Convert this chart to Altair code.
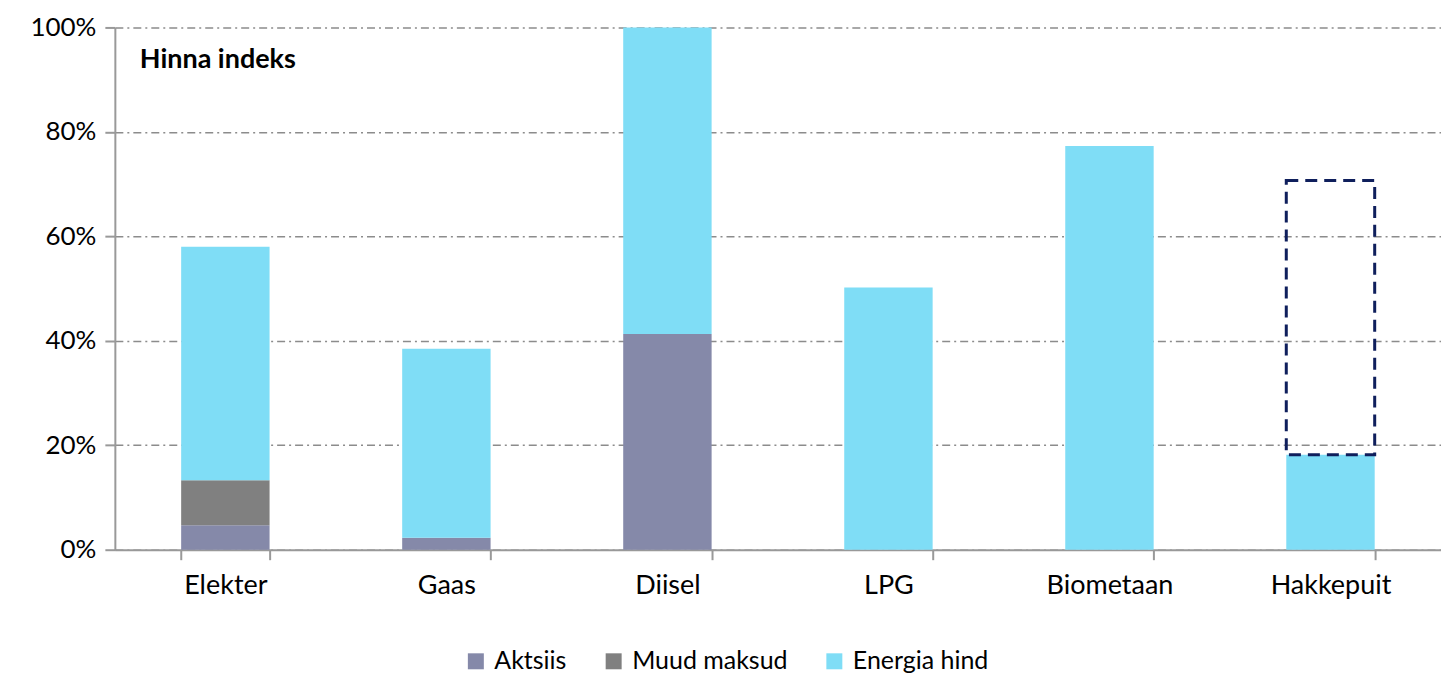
import altair as alt
import pandas as pd

categories = ["Elekter", "Gaas", "Diisel", "LPG", "Biometaan", "Hakkepuit"]
series = ["Aktsiis", "Muud maksud", "Energia hind"]
aktsiis = [4.7, 2.3, 41.3, 0.0, 0.0, 0.0]
muud_maksud = [8.6, 0.0, 0.0, 0.0, 0.0, 0.0]
energia_hind = [44.7, 36.2, 58.7, 50.2, 77.3, 18.2]
colors = ["#8589A9", "#808080", "#7FDDF6"]
box_category = ["Hakkepuit"]
box_low = [18.2]
box_high = [70.7]

rows = []
for i, c in enumerate(categories):
    for j, (s, vals) in enumerate(zip(series, [aktsiis, muud_maksud, energia_hind])):
        rows.append({"cat": c, "series": s, "value": vals[i] / 100.0, "ord": j})
df = pd.DataFrame(rows)
box_df = pd.DataFrame({"cat": box_category, "lo": [v / 100 for v in box_low], "hi": [v / 100 for v in box_high]})

FONT = "Lato"
FS = 27

xscale = alt.Scale(domain=categories, paddingInner=0.6, paddingOuter=0.3)
yscale = alt.Scale(domain=[0, 1], nice=False)

bars = alt.Chart(df).mark_bar(strokeWidth=0).encode(
    x=alt.X("cat:N", scale=xscale, sort=categories, title=None,
            axis=alt.Axis(tickBand="extent", labelAngle=0, labelFontSize=FS, labelPadding=13,
                          tickSize=10, grid=False, domainColor="#999999", tickColor="#999999",
                          domainWidth=2, tickWidth=2, labelColor="#000000", labelFont=FONT)),
    y=alt.Y("sum(value):Q", scale=yscale, stack="zero", title=None,
            axis=alt.Axis(format=".0%", values=[0, 0.2, 0.4, 0.6, 0.8, 1.0], labelFontSize=26,
                          tickSize=10, domainColor="#999999", tickColor="#999999", domainWidth=2,
                          tickWidth=2, labelPadding=9, gridColor="#8c8c8c", gridDash=[8, 4, 2, 4],
                          gridWidth=1.5, labelColor="#000000", labelFont=FONT)),
    color=alt.Color("series:N", scale=alt.Scale(domain=series, range=colors), sort=series,
                    legend=alt.Legend(title=None, orient="none", direction="horizontal",
                                      legendX=349, legendY=622,
                                      symbolType="square", symbolSize=256, symbolStrokeWidth=0,
                                      labelFontSize=25, labelFont=FONT, labelColor="#000000",
                                      labelLimit=400, labelOffset=6, columnPadding=34)),
    order=alt.Order("ord:Q"),
)

box = alt.Chart(box_df).mark_bar(fill="transparent", stroke="#0F1F5C", strokeWidth=3,
                                 strokeDash=[12, 7]).encode(
    x=alt.X("cat:N", scale=xscale, sort=categories),
    y=alt.Y("lo:Q", scale=yscale),
    y2="hi:Q",
)

title = alt.Chart(pd.DataFrame({"t": ["Hinna indeks"]})).mark_text(
    align="left", baseline="middle", fontSize=27, fontWeight="bold", font=FONT, color="#000000"
).encode(x=alt.value(25), y=alt.value(33), text="t:N")

chart = alt.layer(bars, box, title).properties(
    width=1328, height=523,
    autosize=alt.AutoSizeParams(type="none"),
    padding={"left": 107, "top": 19, "right": 0, "bottom": 126},
).configure_view(stroke=None).configure_axisX(grid=False)

chart.save("out.html", embed_options={"renderer": "svg", "actions": False})
